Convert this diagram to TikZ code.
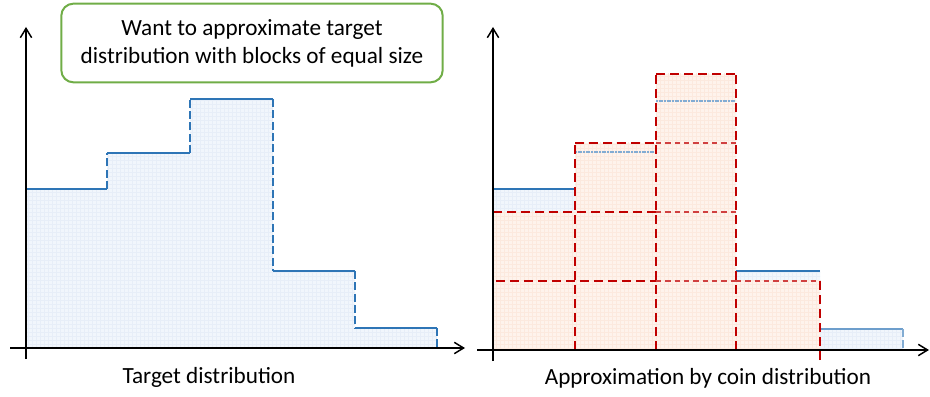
\documentclass[tikz,border=0pt]{standalone}
\usepackage{fontspec}
\setmainfont{Carlito}
\usepackage{tikz}
\usetikzlibrary{
	arrows.meta,
	patterns,
	positioning
}
\definecolor{barblue}{HTML}{2E75B6}
\definecolor{fillblue}{HTML}{F1F6FC}
\definecolor{gridblue}{HTML}{E7EEF8}
\definecolor{fillorange}{HTML}{FEF3EC}
\definecolor{gridorange}{HTML}{FCE9DE}
\definecolor{coinred}{HTML}{C00000}
\definecolor{boxgreen}{HTML}{70AD47}
\tikzset{every path/.append style={>={Straight Barb[length=7pt,width=8.5pt]}}}
\tikzset{
	axis/.style={line width=1.1pt,->},
	bartop/.style={draw=barblue,line width=1.5pt},
	baredge/.style={draw=barblue,line width=1.5pt,dash pattern=on 6pt off 2.5pt},
	barfill/.style={fill=fillblue,postaction={pattern=grid,pattern color=gridblue}},
	coinfill/.style={fill=fillorange,postaction={pattern=grid,pattern color=gridorange}},
	coin/.style={draw=coinred,line width=1.8pt,dash pattern=on 7pt off 3.5pt},
	cointhin/.style={draw=coinred!75,line width=1.1pt,dash pattern=on 4pt off 3pt},
	notebox/.style={draw=boxgreen,line width=1.5pt,rounded corners=9pt,align=center,
		minimum width=286pt,minimum height=59pt,font=\fontsize{17.4}{21}\selectfont},
	charttitle/.style={font=\fontsize{17.4}{21}\selectfont}
}

\begin{document}
\begin{tikzpicture}[x=0.75pt,y=0.75pt]
	\useasboundingbox (0,0) rectangle (930,396);
	% target distribution
	\foreach \xa/\xb/\h in {26/107/207,107/190/243,190/273/297,273/355/125,355/437/68}{
		\fill[barfill] (\xa,48) rectangle (\xb,\h);
		\draw[bartop] (\xa,\h) -- (\xb,\h);
	}
	\draw[baredge] (107,207) -- (107,243);
	\draw[baredge] (190,243) -- (190,297);
	\draw[baredge] (273,297) -- (273,125);
	\draw[baredge] (355,125) -- (355,68);
	\draw[baredge] (437,68) -- (437,48);
	\draw[axis] (10,48) -- (465,48);
	\draw[axis] (26,37) -- (26,369);
	\node[charttitle] (target) at (209,19) {Target distribution};
	\node[notebox] (want) at (252,353) {Want to approximate target\\distribution with blocks of equal size};
	
	% coin distribution
	\foreach \xa/\xb/\h in {493/575/207,575/656/244,656/736/295,736/820/125,820/903/67}
		\fill[barfill] (\xa,46) rectangle (\xb,\h);
	\foreach \xa/\xb/\h in {493/575/184,575/656/253,656/736/322,736/820/115}
		\fill[coinfill] (\xa,46) rectangle (\xb,\h);
	\draw[bartop] (493,207) -- (575,207);
	\draw[bartop] (736,125) -- (820,125);
	\draw[bartop,draw=barblue!70] (820,67) -- (903,67);
	\draw[baredge,draw=barblue!60] (903,67) -- (903,46);
	\draw[draw=barblue!60,line width=1pt,dash pattern=on 1.5pt off 0.5pt] (575,244) -- (656,244);
	\draw[draw=barblue!60,line width=1pt,dash pattern=on 1.5pt off 0.5pt] (656,295) -- (736,295);
	\draw[coin] (496,115) -- (656,115);
	\draw[coin] (493,184) -- (656,184);
	\draw[coin] (575,253) -- (656,253);
	\draw[coin] (656,322) -- (736,322);
	\foreach \y in {115,184,253}
		\draw[cointhin] (656,\y) -- (736,\y);
	\draw[cointhin] (736,115) -- (820,115);
	\draw[coin] (575,46) -- (575,253);
	\draw[coin] (656,46) -- (656,322);
	\draw[coin] (736,46) -- (736,322);
	\draw[coin] (820,36) -- (820,115);
	\draw[axis] (477,46) -- (929,46);
	\draw[axis] (493,35) -- (493,369);
	\node[charttitle] (coindist) at (708,18) {Approximation by coin distribution};
\end{tikzpicture}
\end{document}
